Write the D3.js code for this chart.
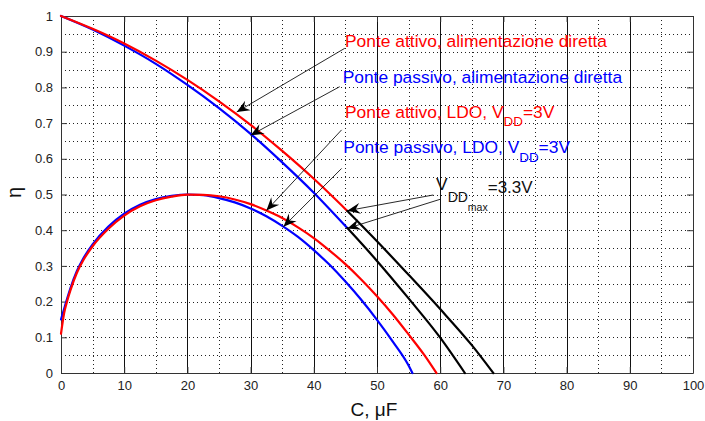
<!DOCTYPE html>
<html>
<head>
<meta charset="utf-8">
<script src="https://cdn.jsdelivr.net/npm/d3@7"></script>
<style>
  body { margin: 0; background: #fff; }
  text { font-family: "Liberation Sans", Arial, Helvetica, sans-serif; }
</style>
</head>
<body>
<svg id="chart" width="705" height="421"></svg>
<script>
// Axis ticks
const xTicks = [0, 10, 20, 30, 40, 50, 60, 70, 80, 90, 100];
const xTickLabels = ["0", "10", "20", "30", "40", "50", "60", "70", "80", "90", "100"];
const yTicks = [0, 0.1, 0.2, 0.3, 0.4, 0.5, 0.6, 0.7, 0.8, 0.9, 1];
const yTickLabels = ["0", "0.1", "0.2", "0.3", "0.4", "0.5", "0.6", "0.7", "0.8", "0.9", "1"];

// Efficiency η versus capacitance C (µF), [C, η]
const activeDirect = [[0, 1], [5, 0.964], [10, 0.923], [15, 0.875], [20, 0.821], [25, 0.761],
  [30, 0.695], [35, 0.622], [40, 0.544], [45.3, 0.454]];
const passiveDirect = [[0, 1], [5, 0.962], [10, 0.917], [15, 0.866], [20, 0.807], [25, 0.742],
  [30, 0.670], [35, 0.590], [40, 0.505], [45.3, 0.406]];
const activeVmax = [[45.3, 0.454], [50, 0.369], [55, 0.275], [60, 0.179], [65, 0.078], [68.4, 0]];
const passiveVmax = [[45.3, 0.406], [50, 0.314], [55, 0.209], [60, 0.099], [63.9, 0]];
const activeLdo = [[0, 0.11], [0.5, 0.168], [1, 0.203], [1.5, 0.232], [2.5, 0.28], [3.5, 0.315],
  [5, 0.355], [7.5, 0.404], [10, 0.441], [12.5, 0.467], [15, 0.484], [17.5, 0.494], [20, 0.4995],
  [22.5, 0.499], [25, 0.495], [27.5, 0.486], [30, 0.473], [32.5, 0.455], [35, 0.434], [37.5, 0.408],
  [40, 0.378], [42.5, 0.343], [45, 0.305], [47.5, 0.262], [50, 0.215], [52.5, 0.164], [55, 0.108],
  [57.5, 0.050], [59.4, 0]];
const passiveLdo = [[0, 0.15], [0.5, 0.18], [1, 0.21], [1.5, 0.238], [2.5, 0.285], [3.5, 0.32],
  [5, 0.36], [7.5, 0.41], [10, 0.446], [12.5, 0.471], [15, 0.487], [17.5, 0.496], [20, 0.5],
  [22.5, 0.498], [25, 0.490], [27.5, 0.478], [30, 0.461], [32.5, 0.439], [35, 0.412], [37.5, 0.381],
  [40, 0.344], [42.5, 0.303], [45, 0.256], [47.5, 0.205], [50, 0.149], [52.5, 0.088], [55, 0.021],
  [55.6, 0]];

const RED = "#ff0000", BLUE = "#0000ff", BLACK = "#000000";

const svg = d3.select("#chart");
const x = d3.scaleLinear().domain([0, 100]).range([61, 693]);
const y = d3.scaleLinear().domain([0, 1]).range([373, 16]);

// Grid: dotted every 5 µF / 0.05, solid verticals every 10 µF
const grid = svg.append("g").attr("shape-rendering", "crispEdges");
const hDots = d3.range(1, 20).map(i => i * 0.05);
const vDots = d3.range(0, 10).map(i => 5 + i * 10);
const vSolid = d3.range(1, 10).map(i => i * 10);
grid.selectAll(".hd").data(hDots).join("line")
  .attr("x1", x(0)).attr("x2", x(100))
  .attr("y1", d => Math.round(y(d)) + 0.5).attr("y2", d => Math.round(y(d)) + 0.5)
  .attr("stroke", "#222").attr("stroke-width", 1).attr("stroke-dasharray", "1,3");
grid.selectAll(".vd").data(vDots).join("line")
  .attr("y1", y(0)).attr("y2", y(1))
  .attr("x1", d => Math.round(x(d)) + 0.5).attr("x2", d => Math.round(x(d)) + 0.5)
  .attr("stroke", "#222").attr("stroke-width", 1).attr("stroke-dasharray", "1,3");
grid.selectAll(".vs").data(vSolid).join("line")
  .attr("y1", y(0)).attr("y2", y(1))
  .attr("x1", d => Math.round(x(d)) + 0.5).attr("x2", d => Math.round(x(d)) + 0.5)
  .attr("stroke", "#111").attr("stroke-width", 1);

// Axes with inward ticks on all four sides
function styleAxis(g) {
  g.select(".domain").attr("stroke", "#333");
  g.selectAll(".tick line").attr("stroke", "#333");
  g.selectAll(".tick text").attr("fill", "#222").style("font-size", "13px")
    .style("font-family", '"Liberation Sans", Arial, sans-serif');
}
svg.append("g").attr("transform", `translate(0,${y(0)})`)
  .call(d3.axisBottom(x).tickValues(xTicks).tickFormat((d, i) => xTickLabels[i])
    .tickSizeInner(-6).tickSizeOuter(0).tickPadding(8))
  .call(styleAxis);
svg.append("g").attr("transform", `translate(0,${y(1)})`)
  .call(d3.axisTop(x).tickValues(xTicks).tickFormat("").tickSizeInner(-6).tickSizeOuter(0))
  .call(styleAxis);
svg.append("g").attr("transform", `translate(${x(0)},0)`)
  .call(d3.axisLeft(y).tickValues(yTicks).tickFormat((d, i) => yTickLabels[i])
    .tickSizeInner(-6).tickSizeOuter(0).tickPadding(8))
  .call(styleAxis);
svg.append("g").attr("transform", `translate(${x(100)},0)`)
  .call(d3.axisRight(y).tickValues(yTicks).tickFormat("").tickSizeInner(-6).tickSizeOuter(0))
  .call(styleAxis);

// Axis titles
svg.append("text").attr("x", 374).attr("y", 416).attr("text-anchor", "middle")
  .style("font-size", "19px").attr("fill", "#111").text("C, μF");
svg.append("text").attr("transform", "translate(21,192.5) rotate(-90)").attr("text-anchor", "middle")
  .style("font-size", "20px").attr("fill", "#111").text("η");

// Curves
const line = d3.line().x(d => x(d[0])).y(d => y(d[1])).curve(d3.curveMonotoneX);
const curves = [
  { data: passiveLdo, color: BLUE },
  { data: activeLdo, color: RED },
  { data: passiveDirect, color: BLUE },
  { data: activeDirect, color: RED },
  { data: passiveVmax, color: BLACK },
  { data: activeVmax, color: BLACK }
];
svg.append("g").selectAll("path").data(curves).join("path")
  .attr("d", d => line(d.data)).attr("fill", "none")
  .attr("stroke", d => d.color).attr("stroke-width", 2.2)
  .attr("stroke-linejoin", "round").attr("stroke-linecap", "round");

// Annotation arrows, in data units
const arrows = [
  { from: [44.9, 0.9095], to: [27.8, 0.731] },
  { from: [44.1, 0.802], to: [30.0, 0.666] },
  { from: [44.4, 0.681], to: [32.5, 0.455] },
  { from: [44.4, 0.573], to: [35.2, 0.410] },
  { from: [58.9, 0.4986], to: [45.3, 0.4546] },
  { from: [60.0, 0.4866], to: [45.3, 0.405] }
];
const ag = svg.append("g");
arrows.forEach(a => {
  const x1 = x(a.from[0]), y1 = y(a.from[1]), x2 = x(a.to[0]), y2 = y(a.to[1]);
  const ang = Math.atan2(y2 - y1, x2 - x1) * 180 / Math.PI;
  ag.append("line").attr("x1", x1).attr("y1", y1).attr("x2", x2).attr("y2", y2)
    .attr("stroke", "#111").attr("stroke-width", 0.9);
  ag.append("path").attr("d", "M0,0L-13,-5.5L-8.5,0L-13,5.5Z")
    .attr("transform", `translate(${x2},${y2}) rotate(${ang})`).attr("fill", "#000");
});

// Annotation labels
const labels = [
  { at: [44.94, 0.913], color: RED, parts: [{ t: "Ponte attivo, alimentazione diretta" }] },
  { at: [44.57, 0.8132], color: BLUE, parts: [{ t: "Ponte passivo, alimentazione diretta" }] },
  { at: [44.94, 0.7151], color: RED, parts: [{ t: "Ponte attivo, LDO, V" },
    { t: "DD", size: 13.4, dy: 8.3 }, { t: "=3V", dy: -8.3 }] },
  { at: [44.67, 0.6154], color: BLUE, parts: [{ t: "Ponte passivo, LDO, V" },
    { t: "DD", size: 13.4, dy: 8.3 }, { t: "=3V", dy: -8.3 }] },
  { at: [59.34, 0.512], color: "#111", parts: [{ t: "V" },
    { t: "DD", size: 14, dy: 11.5 }, { t: "max", size: 10.5, dy: 9 }, { t: "=3.3V", size: 17, dy: -17.5 }] }
];
labels.forEach(l => {
  const t = svg.append("text").attr("x", x(l.at[0])).attr("y", y(l.at[1]))
    .attr("fill", l.color).style("font-size", "17.4px");
  l.parts.forEach(p => {
    const s = t.append("tspan").text(p.t);
    if (p.size) s.style("font-size", p.size + "px");
    if (p.dy) s.attr("dy", p.dy);
  });
});
</script>
</body>
</html>
